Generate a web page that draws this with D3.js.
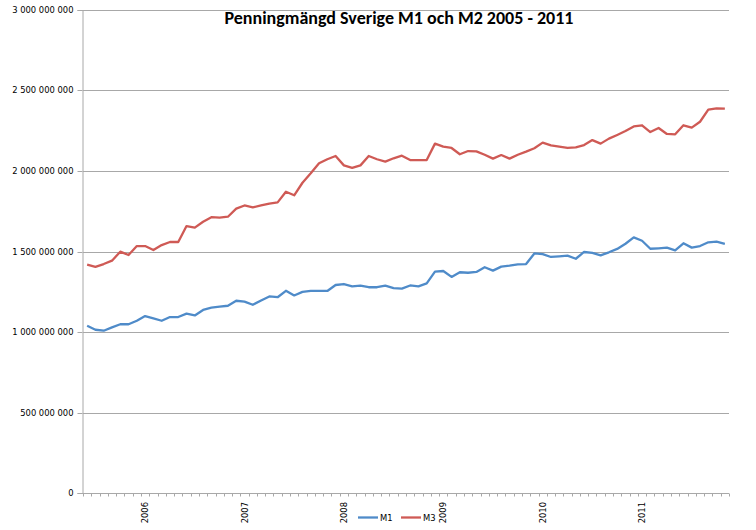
<!DOCTYPE html>
<html><head><meta charset="utf-8">
<script src="https://cdn.jsdelivr.net/npm/d3@7"></script>
<style>body{margin:0;background:#fff}svg{display:block}</style>
</head><body>
<svg id="c" width="756" height="530"></svg>
<script>
// monthly categories, June 2005 – November 2011
const months = [
"2005-06","2005-07","2005-08","2005-09","2005-10","2005-11","2005-12",
"2006-01","2006-02","2006-03","2006-04","2006-05","2006-06","2006-07","2006-08","2006-09","2006-10","2006-11","2006-12",
"2007-01","2007-02","2007-03","2007-04","2007-05","2007-06","2007-07","2007-08","2007-09","2007-10","2007-11","2007-12",
"2008-01","2008-02","2008-03","2008-04","2008-05","2008-06","2008-07","2008-08","2008-09","2008-10","2008-11","2008-12",
"2009-01","2009-02","2009-03","2009-04","2009-05","2009-06","2009-07","2009-08","2009-09","2009-10","2009-11","2009-12",
"2010-01","2010-02","2010-03","2010-04","2010-05","2010-06","2010-07","2010-08","2010-09","2010-10","2010-11","2010-12",
"2011-01","2011-02","2011-03","2011-04","2011-05","2011-06","2011-07","2011-08","2011-09","2011-10","2011-11"];
// values in millions
const m1 = [1039,1014,1008,1029,1048,1048,1070,1099,1085,1070,1093,1093,1114,1103,1137,1151,1157,1163,1194,1189,1169,1196,1221,1216,1256,1227,1249,1256,1256,1255,1292,1298,1284,1288,1278,1278,1288,1273,1269,1289,1283,1302,1375,1379,1342,1371,1368,1373,1402,1381,1406,1412,1420,1422,1488,1484,1466,1470,1474,1455,1497,1491,1476,1495,1516,1548,1588,1567,1517,1520,1524,1507,1551,1524,1534,1557,1561,1548];
const m3 = [1418,1404,1422,1443,1499,1478,1534,1534,1509,1540,1559,1559,1658,1648,1685,1713,1710,1716,1766,1786,1774,1786,1798,1805,1871,1849,1927,1986,2048,2073,2093,2035,2019,2035,2093,2073,2058,2079,2095,2068,2068,2068,2170,2151,2143,2104,2124,2122,2101,2077,2099,2077,2101,2120,2141,2176,2159,2151,2143,2147,2161,2192,2170,2201,2224,2248,2277,2284,2242,2267,2230,2228,2284,2269,2306,2381,2389,2387];
const yTicks = [0,500,1000,1500,2000,2500,3000];
const yTickLabels = ["0","500 000 000","1 000 000 000","1 500 000 000","2 000 000 000","2 500 000 000","3 000 000 000"];
const yearLabels = ["2006","2007","2008","2009","2010","2011"];
const yearMonths = ["2006-01","2007-01","2008-01","2009-01","2010-01","2011-01"];
const seriesNames = ["M1","M3"];
const title = "Penningmängd Sverige M1 och M2 2005 - 2011";

const L=83, R=729, T=10, B=493;
const svg = d3.select("#c");
const font = "'DejaVu Sans', Verdana, sans-serif";
const x = d3.scaleBand().domain(months).range([L,R]).padding(0);
const y = d3.scaleLinear().domain([0,3000]).range([B,T]);
const blue = "#4f8bc9", red = "#cf5a55", grid = "#a8a8a8";

// gridlines
svg.append("g").selectAll("line").data(yTicks.filter(d=>d>0)).join("line")
  .attr("x1",L).attr("x2",R).attr("y1",d=>Math.round(y(d))+0.5).attr("y2",d=>Math.round(y(d))+0.5)
  .attr("stroke",grid).attr("stroke-width",1);

// y axis
const yAxis = d3.axisLeft(y).tickValues(yTicks).tickSize(5).tickPadding(4)
  .tickFormat((d,i)=>yTickLabels[i]);
const gy = svg.append("g").attr("transform",`translate(${L-0.5},0)`).call(yAxis);
gy.select(".domain").attr("stroke",grid);
gy.selectAll(".tick line").attr("stroke",grid);
gy.selectAll("text").attr("font-family",font).attr("font-size","8.4px").attr("fill","#000");
gy.selectAll(".tick").attr("transform",d=>`translate(0,${Math.round(y(d))+0.5})`);

// x axis: minor ticks at each month boundary
const bounds = months.map(m=>x(m)).concat([R]);
svg.append("line").attr("x1",L).attr("x2",R).attr("y1",B+0.5).attr("y2",B+0.5).attr("stroke",grid);
svg.append("g").selectAll("line").data(bounds).join("line")
  .attr("x1",d=>Math.round(d)+0.5).attr("x2",d=>Math.round(d)+0.5)
  .attr("y1",B+0.5).attr("y2",B+3.5).attr("stroke",grid);
svg.append("g").selectAll("text").data(yearLabels).join("text")
  .attr("transform",(d,i)=>`translate(${x(yearMonths[i])+x.bandwidth()/2+3},${502}) rotate(-90)`)
  .attr("text-anchor","end").attr("font-family",font).attr("font-size","8.4px").text(d=>d);

// lines
const line = d3.line().x((d,i)=>x(months[i])+x.bandwidth()/2).y(d=>y(d));
svg.append("path").datum(m3).attr("d",line).attr("fill","none").attr("stroke",red).attr("stroke-width",2.3).attr("stroke-linejoin","round");
svg.append("path").datum(m1).attr("d",line).attr("fill","none").attr("stroke",blue).attr("stroke-width",2.3).attr("stroke-linejoin","round");

// legend
const lg = svg.append("g");
[[358,blue],[401,red]].forEach(([lx,c],i)=>{
  lg.append("line").attr("x1",lx).attr("x2",lx+20).attr("y1",517.5).attr("y2",517.5).attr("stroke",c).attr("stroke-width",2.3);
  lg.append("text").attr("x",lx+22).attr("y",520.5).attr("font-family",font).attr("font-size","8.4px").text(seriesNames[i]);
});

// title
svg.append("text").attr("x",399).attr("y",24).attr("text-anchor","middle")
  .attr("font-family","Carlito, Calibri, Lato, 'Open Sans', sans-serif").attr("font-weight","bold").attr("font-size","18px").text(title);
</script>
</body></html>
